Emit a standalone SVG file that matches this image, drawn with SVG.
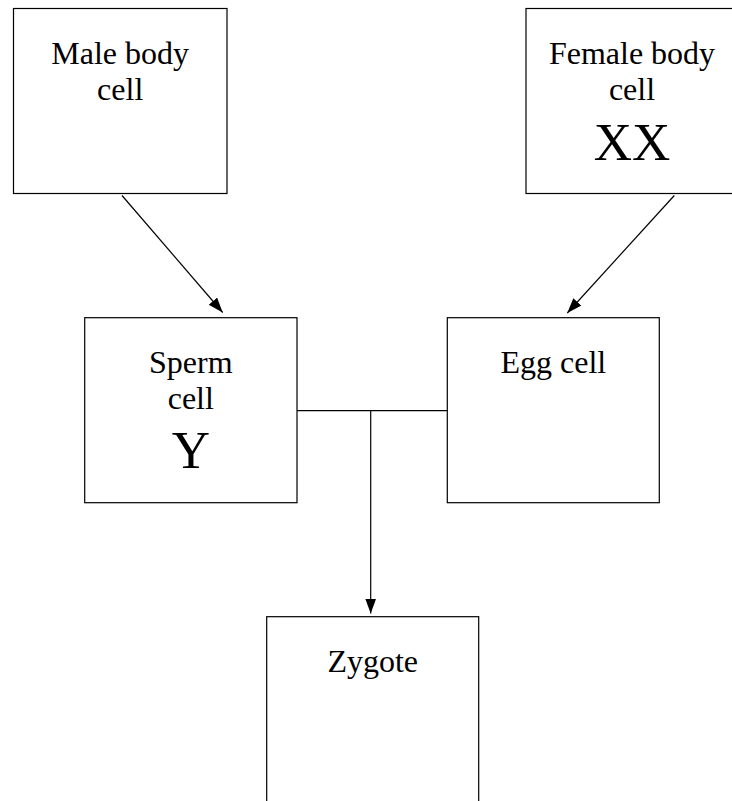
<svg xmlns="http://www.w3.org/2000/svg" width="732" height="801" viewBox="0 0 732 801">
<defs>
<style>
.box{fill:#fff;stroke:#000;stroke-width:1.2}
.t{font-family:"Liberation Serif","Times New Roman",serif;font-size:32px;fill:#000;text-anchor:middle}
.big{font-size:53px}
.c{fill:none;stroke:#000;stroke-width:1.2}
</style>
<marker id="arr" markerUnits="userSpaceOnUse" markerWidth="16" markerHeight="12" refX="15" refY="5.5" orient="auto">
<path d="M0,0 L15,5.5 L0,11 Z" fill="#000"/>
</marker>
</defs>
<rect width="732" height="801" fill="#fff"/>
<g id="connectors">
<line class="c" x1="122" y1="195.5" x2="222.7" y2="312.5" marker-end="url(#arr)"/>
<line class="c" x1="674.3" y1="195.5" x2="567.3" y2="313" marker-end="url(#arr)"/>
<line class="c" x1="297" y1="410.7" x2="447.3" y2="410.7"/>
<line class="c" x1="370.7" y1="410.7" x2="370.7" y2="613.5" marker-end="url(#arr)"/>
</g>
<g id="male">
<rect class="box" x="13.5" y="8.5" width="213.5" height="185"/>
<text class="t" x="120.2" y="64">Male body</text>
<text class="t" x="120.2" y="100">cell</text>
</g>
<g id="female">
<rect class="box" x="526" y="8.5" width="213" height="185"/>
<text class="t" x="632" y="63.5">Female body</text>
<text class="t" x="632" y="100">cell</text>
<text class="t big" x="632" y="159.5">XX</text>
</g>
<g id="sperm">
<rect class="box" x="84.7" y="317.7" width="212.3" height="185"/>
<text class="t" x="190.8" y="372.7">Sperm</text>
<text class="t" x="190.8" y="409.3">cell</text>
<text class="t big" x="190.8" y="468.3">Y</text>
</g>
<g id="egg">
<rect class="box" x="447.3" y="317.7" width="212" height="185"/>
<text class="t" x="553.3" y="373.3">Egg cell</text>
</g>
<g id="zygote">
<rect class="box" x="266.7" y="616.7" width="212" height="190"/>
<text class="t" x="372.7" y="671.7">Zygote</text>
</g>
</svg>
